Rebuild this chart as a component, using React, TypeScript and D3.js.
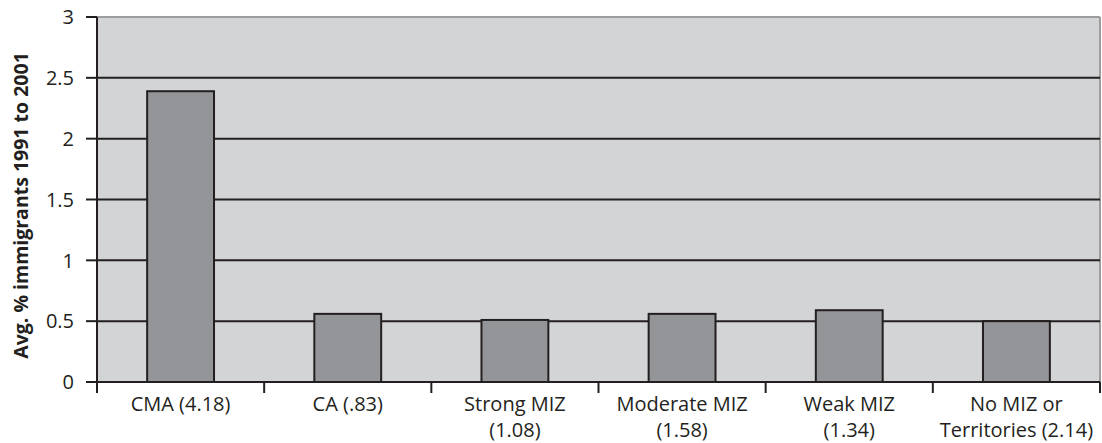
import React from "react";
import * as d3 from "d3";

// Average share of immigrants by zone type (1991 to 2001)
const categoryLines: string[][] = [
  ["CMA (4.18)"],
  ["CA (.83)"],
  ["Strong MIZ", "(1.08)"],
  ["Moderate MIZ", "(1.58)"],
  ["Weak MIZ", "(1.34)"],
  ["No MIZ or", "Territories (2.14)"],
];
const categories: string[] = ["CMA", "CA", "Strong MIZ", "Moderate MIZ", "Weak MIZ", "No MIZ"];
const values: number[] = [2.39, 0.56, 0.51, 0.56, 0.59, 0.5];
const yTicks: number[] = [0, 0.5, 1, 1.5, 2, 2.5, 3];
const yTitle = "Avg. % immigrants 1991 to 2001";

const W = 1102;
const H = 443;
const left = 97;
const right = 1100;
const top = 17;
const bottom = 382;

const ink = "#231f20";
const font = "'Open Sans', 'DejaVu Sans', sans-serif";

export default function App() {
  const x = d3
    .scaleBand<string>()
    .domain(categories)
    .range([left, right])
    .paddingInner(0.6)
    .paddingOuter(0.3);
  const y = d3.scaleLinear().domain([0, 3]).range([bottom, top]);
  const step = x.step();
  const boundaries = d3.range(categories.length + 1).map((i) => left + i * step);

  return (
    <svg
      width={W}
      height={H}
      style={{ position: "absolute", left: 0, top: 0, display: "block" }}
      fontFamily={font}
    >
      {/* plot background */}
      <rect x={left} y={top} width={right - left} height={bottom - top} fill="#d3d4d6" />
      <line x1={left} x2={right} y1={top} y2={top} stroke="#9d9d9f" strokeWidth={2} />
      <line x1={right} x2={right} y1={top} y2={bottom} stroke="#9d9d9f" strokeWidth={2} />

      {/* gridlines */}
      {yTicks
        .filter((t) => t > 0 && t < 3)
        .map((t) => (
          <line key={t} x1={left} x2={right} y1={y(t)} y2={y(t)} stroke={ink} strokeWidth={2} />
        ))}

      {/* bars */}
      {categories.map((c, i) => (
        <rect
          key={c}
          x={x(c)}
          y={y(values[i])}
          width={x.bandwidth()}
          height={y(0) - y(values[i])}
          fill="#939598"
          stroke={ink}
          strokeWidth={2}
        />
      ))}

      {/* y axis */}
      <line x1={left} x2={left} y1={top} y2={bottom} stroke={ink} strokeWidth={2} />
      {yTicks.map((t) => (
        <g key={t}>
          <line x1={left - 11} x2={left} y1={y(t)} y2={y(t)} stroke={ink} strokeWidth={2} />
          <text
            x={left - 23}
            y={y(t)}
            dy="0.36em"
            textAnchor="end"
            fontSize={20}
            fill={ink}
          >
            {t}
          </text>
        </g>
      ))}

      {/* x axis */}
      <line x1={left} x2={right} y1={bottom} y2={bottom} stroke={ink} strokeWidth={2} />
      {boundaries.map((bx, i) => (
        <line key={i} x1={bx} x2={bx} y1={bottom} y2={bottom + 11} stroke={ink} strokeWidth={2} />
      ))}
      {categories.map((c, i) => (
        <text
          key={c}
          x={(x(c) as number) + x.bandwidth() / 2}
          y={411}
          textAnchor="middle"
          fontSize={20}
          fill={ink}
        >
          {categoryLines[i].map((line, j) => (
            <tspan key={j} x={(x(c) as number) + x.bandwidth() / 2} dy={j === 0 ? 0 : 26}>
              {line}
            </tspan>
          ))}
        </text>
      ))}

      {/* y axis title */}
      <text
        transform={`translate(28, ${(top + bottom) / 2 + 6}) rotate(-90)`}
        textAnchor="middle"
        fontSize={19.5}
        fontWeight={700}
        fill={ink}
      >
        {yTitle}
      </text>
    </svg>
  );
}
